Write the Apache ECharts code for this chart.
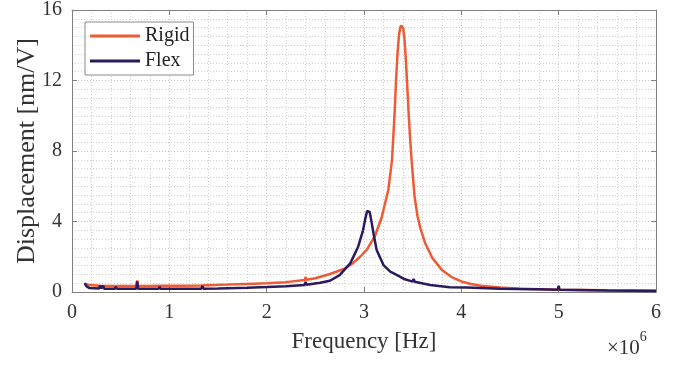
<!DOCTYPE html>
<html>
<head>
<meta charset="utf-8">
<script src="https://cdn.jsdelivr.net/npm/echarts@6/dist/echarts.min.js"></script>
<style>
html,body{margin:0;padding:0;background:#fff;}
#c{width:687px;height:365px;}
</style>
</head>
<body>
<div id="c"></div>
<script>
// Frequency in units of 1e6 Hz
const xTicks = [0, 1, 2, 3, 4, 5, 6];
const yTicks = [0, 4, 8, 12, 16];

const rigidFreq = [0.13, 0.18, 0.28, 0.29, 0.30, 0.40, 0.44, 0.45, 0.46, 0.55, 0.66, 0.67, 0.68, 0.80, 0.89, 0.90, 0.91, 1.10, 1.33, 1.34, 1.35, 1.60, 1.80, 2.00, 2.20, 2.39, 2.40, 2.41, 2.50, 2.65, 2.80, 2.89, 2.96, 3.03, 3.11, 3.18, 3.25, 3.288, 3.315, 3.329, 3.345, 3.36, 3.372, 3.381, 3.387, 3.394, 3.403, 3.415, 3.43, 3.445, 3.46, 3.475, 3.49, 3.52, 3.55, 3.58, 3.63, 3.70, 3.80, 3.90, 4.00, 4.10, 4.20, 4.40, 4.60, 4.80, 5.00, 5.50, 6.00];
const rigidVal  = [0.46, 0.40, 0.35, 0.45, 0.35, 0.34, 0.34, 0.42, 0.34, 0.34, 0.34, 0.65, 0.34, 0.34, 0.35, 0.45, 0.35, 0.36, 0.37, 0.48, 0.37, 0.42, 0.46, 0.50, 0.56, 0.68, 0.85, 0.69, 0.78, 1.02, 1.32, 1.65, 2.00, 2.40, 3.15, 4.20, 5.80, 7.50, 10.20, 12.00, 13.60, 14.60, 15.00, 15.13, 15.15, 15.12, 14.95, 14.40, 13.20, 11.60, 10.00, 8.60, 7.40, 5.40, 4.30, 3.60, 2.75, 1.95, 1.25, 0.85, 0.60, 0.45, 0.36, 0.26, 0.19, 0.15, 0.13, 0.10, 0.08];

const flexFreq = [0.13, 0.15, 0.18, 0.28, 0.29, 0.30, 0.31, 0.32, 0.33, 0.44, 0.45, 0.46, 0.66, 0.67, 0.68, 0.89, 0.90, 0.91, 1.00, 1.33, 1.34, 1.35, 1.50, 1.80, 2.00, 2.20, 2.39, 2.40, 2.41, 2.55, 2.65, 2.75, 2.86, 2.94, 2.99, 3.015, 3.032, 3.045, 3.058, 3.075, 3.10, 3.13, 3.20, 3.27, 3.34, 3.42, 3.50, 3.51, 3.52, 3.68, 3.88, 4.06, 4.40, 4.74, 4.79, 4.80, 4.81, 4.99, 5.00, 5.01, 5.50, 6.00];
const flexVal  = [0.50, 0.32, 0.22, 0.20, 0.38, 0.20, 0.20, 0.36, 0.19, 0.18, 0.30, 0.18, 0.18, 0.60, 0.18, 0.18, 0.30, 0.18, 0.18, 0.19, 0.35, 0.19, 0.20, 0.24, 0.28, 0.33, 0.40, 0.58, 0.41, 0.52, 0.64, 0.96, 1.64, 2.57, 3.50, 4.20, 4.60, 4.69, 4.55, 4.05, 3.25, 2.38, 1.53, 1.15, 0.96, 0.72, 0.59, 0.74, 0.58, 0.40, 0.27, 0.25, 0.19, 0.15, 0.15, 0.25, 0.15, 0.13, 0.35, 0.13, 0.08, 0.05];

const rigidData = rigidFreq.map((f, i) => [f, rigidVal[i]]);
const flexData = flexFreq.map((f, i) => [f, flexVal[i]]);

const serif = 'Liberation Serif';
const boxColor = '#808080';
const gridDots = { show: true, lineStyle: { color: '#d0d0d0', width: 1, type: [1, 2] } };

const chart = echarts.init(document.getElementById('c'), null, { renderer: 'canvas' });
chart.setOption({
  backgroundColor: '#fff',
  animation: false,
  grid: { left: 72, right: 31, top: 10, bottom: 73, containLabel: false, outerBoundsMode: 'none' },
  legend: {
    orient: 'vertical',
    left: 85, top: 22,
    padding: [4, 4, 4, 5],
    itemGap: 5,
    itemWidth: 50, itemHeight: 3,
    itemTextGap: 5,
    icon: 'rect',
    backgroundColor: '#fff',
    borderColor: '#8a8a8a', borderWidth: 1, borderRadius: 0,
    textStyle: { fontFamily: serif, fontSize: 20, color: '#222', lineHeight: 20 },
    data: ['Rigid', 'Flex']
  },
  xAxis: [{
    type: 'value', min: 0, max: 6, interval: 1,
    name: 'Frequency [Hz]', nameLocation: 'middle', nameGap: 38,
    nameTextStyle: { fontFamily: serif, fontSize: 23, color: '#333' },
    axisLine: { show: true, lineStyle: { color: boxColor, width: 1 } },
    axisTick: { show: true, inside: true, length: 5, lineStyle: { color: boxColor } },
    axisLabel: { fontFamily: serif, fontSize: 20, color: '#333', margin: 11, formatter: v => xTicks.includes(v) ? String(v) : '' },
    splitLine: { show: true, lineStyle: { color: '#c8c8c8', width: 1, type: [1, 2] } },
    minorTick: { show: false, splitNumber: 5 },
    minorSplitLine: gridDots
  }, {
    type: 'value', min: 0, max: 6, interval: 1, position: 'top',
    axisLine: { show: true, onZero: false, lineStyle: { color: boxColor, width: 1 } },
    axisTick: { show: true, inside: true, length: 5, lineStyle: { color: boxColor } },
    axisLabel: { show: false }, splitLine: { show: false }
  }],
  yAxis: [{
    type: 'value', min: 0, max: 16, interval: 4,
    name: 'Displacement [nm/V]', nameLocation: 'middle', nameGap: 32, nameRotate: 90,
    nameMoveOverlap: false,
    nameTextStyle: { fontFamily: serif, fontSize: 26, color: '#333' },
    axisLine: { show: true, lineStyle: { color: boxColor, width: 1 } },
    axisTick: { show: true, inside: true, length: 5, lineStyle: { color: boxColor } },
    axisLabel: { fontFamily: serif, fontSize: 20, color: '#333', margin: 10, formatter: v => yTicks.includes(v) ? String(v) : '' },
    splitLine: { show: true, lineStyle: { color: '#c8c8c8', width: 1, type: [1, 2] } },
    minorTick: { show: false, splitNumber: 8 },
    minorSplitLine: gridDots
  }, {
    type: 'value', min: 0, max: 16, interval: 4, position: 'right',
    axisLine: { show: true, onZero: false, lineStyle: { color: boxColor, width: 1 } },
    axisTick: { show: true, inside: true, length: 5, lineStyle: { color: boxColor } },
    axisLabel: { show: false }, splitLine: { show: false }
  }],
  graphic: [{
    type: 'text', left: 607, top: 330,
    style: {
      text: '{a|×10}{b|6}',
      rich: {
        a: { fontFamily: serif, fontSize: 21, fill: '#333', verticalAlign: 'bottom', padding: [8, 0, 0, 0] },
        b: { fontFamily: serif, fontSize: 14, fill: '#333', verticalAlign: 'top' }
      }
    }
  }],
  series: [{
    name: 'Rigid', type: 'line', data: rigidData, xAxisIndex: 0, yAxisIndex: 0,
    showSymbol: false, symbol: 'none', smooth: false,
    lineStyle: { color: '#EE5B34', width: 2.5 }, itemStyle: { color: '#EE5B34' }, z: 3
  }, {
    name: 'Flex', type: 'line', data: flexData, xAxisIndex: 0, yAxisIndex: 0,
    showSymbol: false, symbol: 'none', smooth: false,
    lineStyle: { color: '#2B1B5E', width: 2.5 }, itemStyle: { color: '#2B1B5E' }, z: 4
  }]
});
</script>
</body>
</html>
